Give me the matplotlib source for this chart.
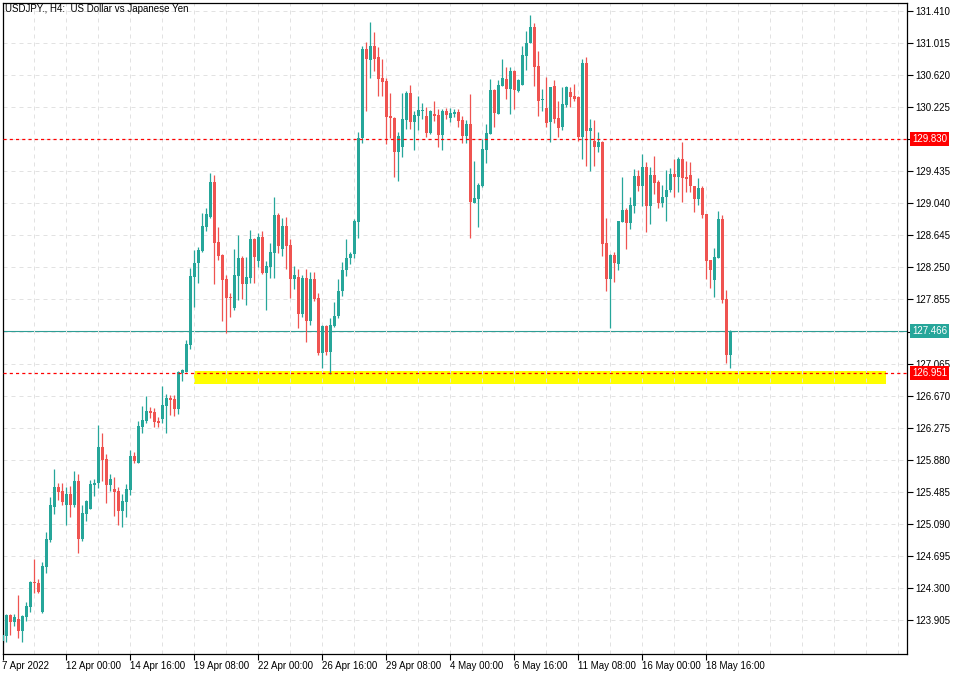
import matplotlib
matplotlib.use('Agg')
import matplotlib.pyplot as plt
import numpy as np
from matplotlib.patches import Rectangle

plt.rcParams['font.family'] = ['Liberation Sans Narrow', 'Liberation Sans', 'DejaVu Sans']

UP = '#26a69a'
DOWN = '#ef5350'
GRID = '#e2e2e2'

# USDJPY H4 candles, 7 Apr 2022 -> 19 May 2022
opens = [123.646, 123.711, 123.962, 123.880, 123.917, 123.773, 123.945, 124.069, 124.377, 124.361,
         124.007, 124.562, 124.891, 125.301, 125.544, 125.494, 125.322, 125.457, 125.322, 125.618,
         124.907, 125.215, 125.276, 125.572, 125.589, 126.037, 125.889, 125.568, 125.519, 125.494,
         125.252, 125.362, 125.510, 125.926, 125.843, 126.287, 126.361, 126.480, 126.468, 126.357,
         126.386, 126.542, 126.641, 126.628, 126.505, 126.952, 126.961, 127.297, 128.135, 128.308,
         128.456, 128.752, 128.867, 129.303, 128.563, 128.403, 128.107, 127.889, 127.753, 128.148,
         128.366, 128.049, 128.123, 128.600, 128.333, 128.625, 128.185, 128.259, 128.431, 128.896,
         128.481, 128.760, 128.526, 128.111, 128.132, 127.679, 128.123, 127.593, 128.107, 127.873,
         127.199, 127.532, 127.208, 127.532, 127.651, 127.959, 128.218, 128.366, 128.415, 128.813,
         129.849, 130.938, 130.806, 130.979, 130.843, 130.584, 130.547, 130.120, 130.095, 129.676,
         129.738, 130.070, 130.403, 130.046, 130.120, 130.184, 130.120, 129.910, 130.144, 130.128,
         129.886, 130.178, 130.095, 130.141, 130.165, 130.070, 129.873, 130.021, 129.047, 129.097,
         129.257, 129.701, 129.898, 130.436, 130.144, 130.489, 130.572, 130.449, 130.671, 130.428,
         130.502, 130.859, 131.016, 131.213, 130.732, 130.309, 130.218, 130.046, 130.486, 130.095,
         129.984, 130.255, 130.412, 130.362, 130.354, 129.861, 130.769, 129.935, 129.811, 129.738,
         129.799, 128.551, 128.107, 128.407, 128.292, 128.813, 128.957, 128.797, 129.010, 129.377,
         129.257, 129.487, 129.010, 129.389, 129.303, 129.047, 129.118, 129.200, 129.401, 129.368,
         129.586, 129.364, 129.389, 129.253, 129.093, 129.229, 128.908, 128.341, 128.099, 128.370,
         128.850, 127.861, 127.174]
highs = [123.781, 123.975, 123.975, 123.975, 124.213, 123.966, 124.123, 124.385, 124.657, 124.410,
         124.620, 124.989, 125.421, 125.766, 125.593, 125.593, 125.544, 125.556, 125.741, 125.704,
         125.322, 125.383, 125.630, 125.642, 126.308, 126.209, 125.950, 125.704, 125.667, 125.544,
         125.457, 125.581, 126.000, 125.975, 126.357, 126.542, 126.665, 126.530, 126.517, 126.410,
         126.788, 126.690, 126.678, 126.678, 126.973, 127.002, 127.355, 128.243, 128.465, 128.502,
         128.921, 128.982, 129.414, 129.389, 128.748, 128.410, 128.156, 127.938, 128.477, 128.649,
         128.391, 128.378, 128.711, 128.610, 128.674, 128.699, 128.329, 128.551, 129.118, 128.921,
         128.859, 128.871, 128.600, 128.267, 128.230, 128.156, 128.230, 128.193, 128.193, 127.938,
         127.540, 127.540, 127.630, 127.824, 128.107, 128.317, 128.600, 128.440, 128.847, 129.923,
         130.979, 131.024, 131.274, 131.151, 130.966, 130.818, 130.584, 130.399, 130.104, 129.923,
         130.399, 130.424, 130.498, 130.181, 130.362, 130.276, 130.227, 130.190, 130.301, 130.202,
         130.202, 130.215, 130.215, 130.206, 130.206, 130.120, 130.070, 130.387, 129.565, 129.290,
         129.836, 130.021, 130.572, 130.445, 130.563, 130.818, 130.720, 130.720, 130.683, 130.572,
         130.979, 131.163, 131.361, 131.262, 130.917, 130.449, 130.597, 130.473, 130.560, 130.301,
         130.473, 130.480, 130.473, 130.510, 130.360, 130.818, 130.843, 130.083, 130.070, 129.915,
         129.805, 128.855, 128.419, 128.440, 128.822, 129.364, 128.982, 129.118, 129.463, 129.450,
         129.651, 129.549, 129.487, 129.623, 129.327, 129.266, 129.450, 129.475, 129.586, 129.611,
         129.796, 129.561, 129.549, 129.253, 129.352, 129.253, 128.908, 128.341, 128.493, 128.945,
         128.896, 127.975, 127.479]
lows = [123.621, 123.637, 123.720, 123.831, 123.687, 123.637, 123.896, 124.007, 124.241, 124.241,
        123.991, 124.488, 124.870, 125.215, 125.383, 125.326, 125.079, 125.178, 125.301, 124.734,
        124.882, 125.128, 125.276, 125.437, 125.535, 125.621, 125.350, 125.494, 125.190, 125.079,
        125.055, 125.178, 125.449, 125.843, 125.843, 126.209, 126.336, 126.398, 126.287, 126.287,
        126.336, 126.213, 126.435, 126.422, 126.447, 126.854, 126.961, 127.248, 127.766, 128.062,
        128.444, 128.703, 128.855, 128.049, 128.341, 127.593, 127.445, 127.642, 127.729, 127.848,
        127.864, 127.790, 128.062, 128.062, 128.259, 128.170, 127.729, 128.123, 128.123, 128.431,
        128.394, 128.234, 127.877, 127.988, 127.507, 127.642, 127.334, 127.540, 127.836, 127.170,
        127.014, 127.170, 126.933, 127.516, 127.627, 127.898, 128.144, 128.292, 128.366, 128.616,
        129.787, 130.181, 130.588, 130.671, 130.362, 130.362, 129.775, 129.849, 129.368, 129.319,
        129.614, 129.959, 129.959, 129.701, 129.947, 130.083, 129.861, 129.898, 130.058, 129.738,
        129.701, 130.083, 130.046, 130.107, 129.984, 129.787, 129.787, 128.616, 129.040, 128.752,
        129.245, 129.540, 129.898, 129.984, 130.144, 130.489, 130.329, 130.144, 130.206, 130.415,
        130.502, 130.683, 131.016, 130.486, 130.120, 130.181, 129.984, 129.799, 130.033, 129.861,
        129.947, 130.230, 130.230, 130.305, 129.811, 129.590, 129.503, 129.442, 129.503, 129.676,
        128.391, 127.959, 127.503, 128.070, 128.218, 128.813, 128.481, 128.727, 128.924, 129.192,
        129.010, 128.690, 128.789, 129.158, 128.986, 128.995, 128.826, 129.183, 129.121, 129.183,
        129.060, 129.183, 129.183, 128.933, 129.023, 128.862, 128.107, 128.000, 127.889, 128.370,
        127.811, 127.076, 127.014]
closes = [123.720, 123.966, 123.884, 123.938, 123.773, 123.954, 124.074, 124.377, 124.364, 124.250,
          124.570, 124.903, 125.322, 125.544, 125.486, 125.362, 125.457, 125.322, 125.618, 124.907,
          125.223, 125.371, 125.581, 125.593, 126.037, 125.880, 125.568, 125.642, 125.486, 125.252,
          125.371, 125.519, 125.926, 125.864, 126.296, 126.370, 126.480, 126.459, 126.345, 126.336,
          126.554, 126.641, 126.616, 126.505, 126.961, 126.986, 127.306, 128.144, 128.304, 128.465,
          128.760, 128.908, 129.303, 128.555, 128.394, 128.095, 127.877, 127.877, 128.156, 128.366,
          128.049, 128.132, 128.600, 128.382, 128.625, 128.185, 128.267, 128.440, 128.896, 128.518,
          128.760, 128.518, 128.111, 128.156, 127.679, 128.123, 127.593, 128.107, 127.864, 127.199,
          127.532, 127.208, 127.540, 127.651, 127.959, 128.218, 128.366, 128.415, 128.822, 129.849,
          130.938, 130.822, 130.979, 130.822, 130.572, 130.535, 130.107, 130.095, 129.676, 129.873,
          130.083, 130.403, 130.046, 130.128, 130.194, 130.192, 129.910, 130.181, 130.120, 129.886,
          130.178, 130.132, 130.153, 130.165, 130.058, 129.873, 130.021, 129.060, 129.109, 129.266,
          129.713, 129.910, 130.436, 130.157, 130.498, 130.584, 130.449, 130.671, 130.440, 130.560,
          130.868, 131.016, 131.213, 130.720, 130.305, 130.317, 130.033, 130.473, 130.083, 129.972,
          130.264, 130.473, 130.354, 130.329, 129.861, 130.769, 129.935, 129.972, 129.738, 129.799,
          128.538, 128.107, 128.407, 128.304, 128.822, 128.957, 128.797, 129.019, 129.377, 129.257,
          129.487, 129.010, 129.389, 129.294, 129.047, 129.118, 129.208, 129.401, 129.368, 129.586,
          129.352, 129.340, 129.257, 129.093, 129.229, 128.896, 128.333, 128.222, 128.378, 128.850,
          127.852, 127.174, 127.466]

date_labels = ['7 Apr 2022', '12 Apr 00:00', '14 Apr 16:00', '19 Apr 08:00', '22 Apr 00:00',
               '26 Apr 16:00', '29 Apr 08:00', '4 May 00:00', '6 May 16:00', '11 May 08:00',
               '16 May 00:00', '18 May 16:00']
label_every = 16

price_ticks = [123.905, 124.300, 124.695, 125.090, 125.485, 125.880, 126.275, 126.670, 127.065,
               127.460, 127.855, 128.250, 128.645, 129.040, 129.435, 129.830, 130.225, 130.620,
               131.015, 131.410]

resistance = 129.830
support = 126.951
last_price = 127.466
zone_low, zone_high = 126.813, 126.973
zone_from, zone_to = 48, 221

title = 'USDJPY., H4:  US Dollar vs Japanese Yen'
FS = 7


def main():
    o = np.array(opens)
    h = np.array(highs)
    l = np.array(lows)
    c = np.array(closes)
    x = np.arange(len(o))
    up = c >= o
    colors = np.where(up, UP, DOWN)

    fig = plt.figure(figsize=(9.6, 6.75), dpi=100)
    ax = fig.add_axes([2.5 / 960, 1 - 654 / 675, 904.5 / 960, 651.5 / 675])
    ax.set_xlim(0.125, 226.25)
    ax.set_ylim(123.486, 131.515)

    # grid
    ax.set_xticks(np.arange(len(date_labels)) * label_every)
    ax.set_xticks(np.arange(0, 227, 8), minor=True)
    ax.grid(True, which='both', axis='x', color=GRID, lw=0.72, ls=(0, (4, 4)), zorder=0)
    ax.set_yticks(price_ticks)
    ax.grid(True, which='major', axis='y', color=GRID, lw=0.72, ls=(0, (4, 4)), zorder=0)

    # support zone
    ax.add_patch(Rectangle((zone_from, zone_low), zone_to - zone_from, zone_high - zone_low,
                           facecolor='#ffff00', edgecolor='none', zorder=1))

    # candles
    ax.vlines(x, l, h, colors=colors, lw=0.9, zorder=2)
    body = np.maximum(np.abs(c - o), 0.012)
    ax.bar(x, body, bottom=np.minimum(o, c), width=0.72, color=colors, lw=0, zorder=3)

    # horizontal levels
    ax.axhline(resistance, color='#ff0000', lw=0.9, ls=(0, (2.5, 2.5)), zorder=4)
    ax.axhline(support, color='#ff0000', lw=0.9, ls=(0, (2.5, 2.5)), zorder=4)
    ax.axhline(last_price, color='#2e9e95', lw=0.8, zorder=1.5)

    # axes look
    for s in ax.spines.values():
        s.set_color('black')
        s.set_linewidth(0.9)
    ax.yaxis.tick_right()
    # the tags below take the place of the scale labels they sit on
    hidden = {round(resistance, 3), 127.460}
    ax.set_yticklabels(['' if round(t, 3) in hidden else f'{t:.3f}' for t in price_ticks])
    ax.tick_params(axis='y', which='major', length=4, width=0.8, pad=2, labelsize=FS, colors='black')
    ax.set_xticklabels(date_labels)
    ax.tick_params(axis='x', which='major', length=4, width=0.8, pad=1, labelsize=FS)
    ax.tick_params(axis='x', which='minor', length=0)
    for lbl in ax.get_xticklabels():
        lbl.set_horizontalalignment('left')

    # price tags on the right scale
    for val, col in [(resistance, '#ff0000'), (last_price, '#26a69a'), (support, '#ff0000')]:
        ax.annotate(f'{val:.3f}', xy=(1, val), xycoords=('axes fraction', 'data'),
                    xytext=(5, 0), textcoords='offset pixels', ha='left', va='center',
                    fontsize=FS, color='white', annotation_clip=False, zorder=10,
                    bbox=dict(boxstyle='square,pad=0.2', fc=col, ec='none'))

    ax.text(0.003, 0.997, title, transform=ax.transAxes, ha='left', va='top', fontsize=FS)

    fig.savefig('out.png', dpi=100)


main()
